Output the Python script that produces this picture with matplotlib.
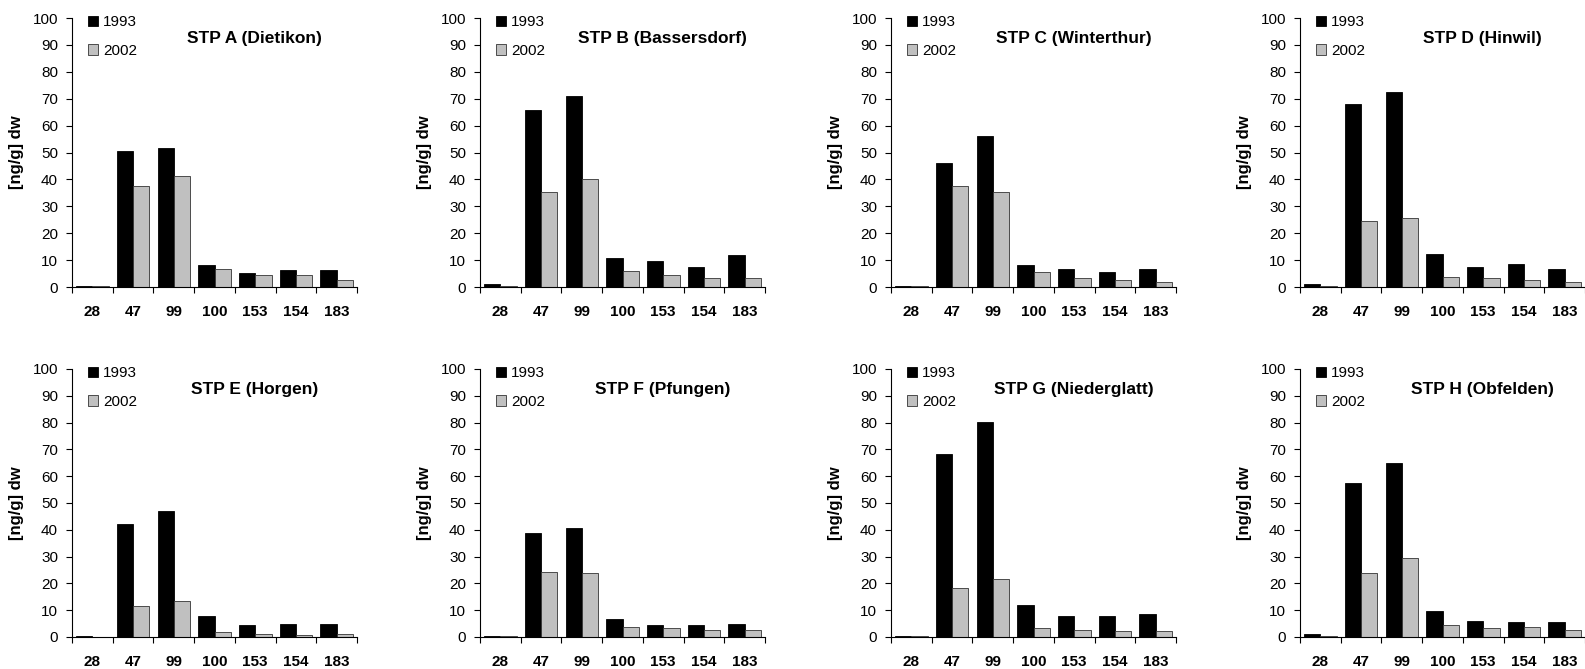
import matplotlib.pyplot as plt
from matplotlib.ticker import FixedLocator

plt.rcParams['font.family'] = ['Liberation Sans', 'DejaVu Sans']

congeners = ['28', '47', '99', '100', '153', '154', '183']
years = ['1993', '2002']

titles = ['STP A (Dietikon)', 'STP B (Bassersdorf)', 'STP C (Winterthur)', 'STP D (Hinwil)',
          'STP E (Horgen)', 'STP F (Pfungen)', 'STP G (Niederglatt)', 'STP H (Obfelden)']

# [ng/g] dw, 1993 and 2002
a_1993 = [0.5, 50.6, 51.7, 8.0, 5.1, 6.2, 6.2]
a_2002 = [0.5, 37.5, 41.2, 6.8, 4.6, 4.6, 2.7]
b_1993 = [1.0, 65.8, 71.1, 10.7, 9.6, 7.3, 11.8]
b_2002 = [0.5, 35.2, 40.0, 6.1, 4.6, 3.5, 3.5]
c_1993 = [0.5, 46.0, 56.1, 8.0, 6.8, 5.6, 6.8]
c_2002 = [0.5, 37.4, 35.5, 5.6, 3.4, 2.7, 2.0]
d_1993 = [1.0, 68.0, 72.5, 12.4, 7.3, 8.4, 6.8]
d_2002 = [0.5, 24.7, 25.5, 3.9, 3.5, 2.7, 2.0]
e_1993 = [0.5, 42.0, 47.0, 7.7, 4.4, 5.0, 5.0]
e_2002 = [0.1, 11.7, 13.3, 2.0, 1.2, 0.9, 1.2]
f_1993 = [0.4, 38.7, 40.8, 6.6, 4.4, 4.4, 5.0]
f_2002 = [0.3, 24.1, 23.7, 3.9, 3.2, 2.7, 2.7]
g_1993 = [0.4, 68.3, 80.2, 11.8, 7.7, 7.7, 8.5]
g_2002 = [0.3, 18.1, 21.8, 3.2, 2.6, 2.1, 2.1]
h_1993 = [1.0, 57.4, 64.8, 9.6, 6.1, 5.5, 5.5]
h_2002 = [0.3, 23.7, 29.3, 4.4, 3.2, 3.9, 2.7]

series_1993 = [a_1993, b_1993, c_1993, d_1993, e_1993, f_1993, g_1993, h_1993]
series_2002 = [a_2002, b_2002, c_2002, d_2002, e_2002, f_2002, g_2002, h_2002]

W, H = 1585, 669
fig = plt.figure(figsize=(W / 100, H / 100), dpi=100)

lefts = [72, 480, 891, 1300]
rows = [(18, 287), (369, 637)]  # (top px, bottom px)
axw = 285

x = list(range(len(congeners)))
bw = 0.4

for i in range(8):
    r, c = divmod(i, 4)
    top, bot = rows[r]
    ax = fig.add_axes([lefts[c] / W, 1 - bot / H, axw / W, (bot - top) / H])
    b1 = ax.bar([v - bw / 2 for v in x], series_1993[i], bw, color='black',
                edgecolor='black', linewidth=0.6, label=years[0])
    b2 = ax.bar([v + bw / 2 for v in x], series_2002[i], bw, color='#c0c0c0',
                edgecolor='#333333', linewidth=0.6, label=years[1])
    ax.set_xlim(-0.5, 6.5)
    ax.set_ylim(0, 100)
    ax.set_yticks(range(0, 101, 10))
    ax.set_xticks(x)
    ax.set_xticklabels(congeners, fontweight='bold', fontsize=11)
    ax.xaxis.set_minor_locator(FixedLocator([v - 0.5 for v in range(8)]))
    ax.tick_params(axis='x', which='major', length=0, pad=13)
    ax.tick_params(axis='x', which='minor', length=4, width=0.8, direction='out')
    ax.tick_params(axis='y', length=4, width=0.8, direction='out', labelsize=11, pad=6)
    for s in ['top', 'right']:
        ax.spines[s].set_visible(False)
    for s in ['left', 'bottom']:
        ax.spines[s].set_linewidth(0.8)
    ax.set_ylabel('[ng/g] dw', fontweight='bold', fontsize=12, labelpad=6)
    ax.text(0.64, 0.925, titles[i], transform=ax.transAxes, ha='center', va='center',
            fontsize=12.5, fontweight='bold')
    ax.legend(handles=[b1, b2], loc='upper left', bbox_to_anchor=(0.055, 1.01),
              frameon=False, fontsize=11, handlelength=0.7, handleheight=0.7,
              handletextpad=0.3, labelspacing=0.95, borderpad=0, borderaxespad=0)

fig.savefig('out.png', dpi=100)
